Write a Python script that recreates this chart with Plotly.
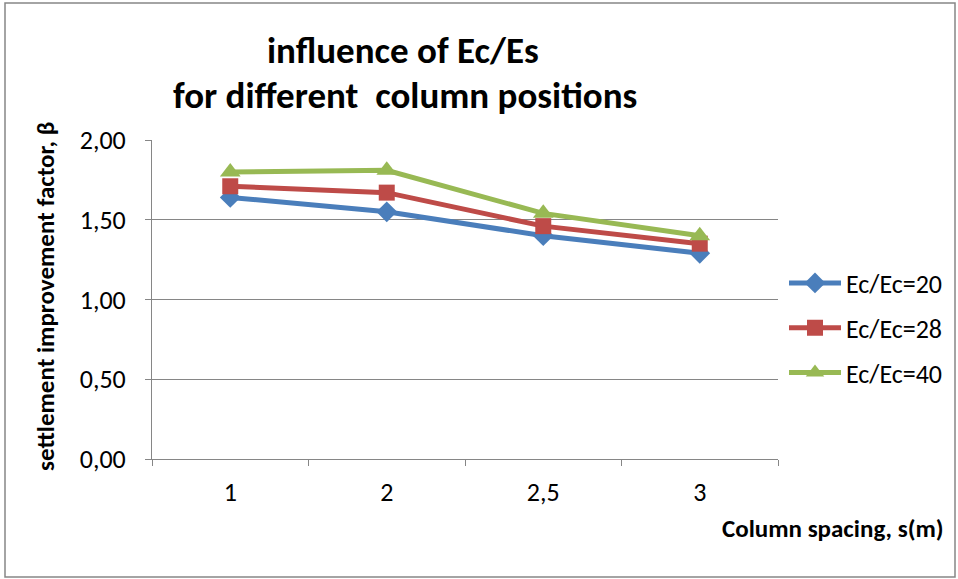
import plotly.graph_objects as go

categories = ["1", "2", "2,5", "3"]
series_names = ["Ec/Ec=20", "Ec/Ec=28", "Ec/Ec=40"]
s20 = [1.64, 1.55, 1.40, 1.29]
s28 = [1.71, 1.67, 1.46, 1.35]
s40 = [1.80, 1.81, 1.54, 1.40]
y_ticks = [0, 0.5, 1.0, 1.5, 2.0]
y_tick_labels = ["0,00", "0,50", "1,00", "1,50", "2,00"]

colors = ["#4A7EBB", "#BE4B48", "#98B954"]
symbols = ["diamond", "square", "triangle-up"]
sizes = [16, 16, 18]
font = "Carlito, Calibri, 'Liberation Sans Narrow', 'Open Sans', sans-serif"

L, R, T, B = 152, 778, 140, 459
W, H = 958, 579

fig = go.Figure()
for i, (name, vals, c, s, sz) in enumerate(zip(series_names, [s20, s28, s40], colors, symbols, sizes)):
    fig.add_trace(go.Scatter(
        x=categories, y=vals, name=name, mode="lines+markers",
        legendgroup=f"g{i}",
        line=dict(color=c, width=5),
        marker=dict(symbol=s, size=sz, color=c),
    ))

def px_x(px):
    return (px - L) / (R - L)
def px_y(py):
    return (B - py) / (B - T)

fig.update_layout(
    width=W, height=H,
    margin=dict(l=L, r=W - R, t=T, b=H - B, autoexpand=False),
    paper_bgcolor="white", plot_bgcolor="white",
    font=dict(family=font, size=26, color="#000000"),
    showlegend=True,
    legend=dict(x=px_x(784), y=px_y(328), xanchor="left", yanchor="middle",
                font=dict(size=26), tracegroupgap=8, itemwidth=52,
                bgcolor="rgba(0,0,0,0)"),
    xaxis=dict(type="category", showline=True, linecolor="#868686", linewidth=1,
               ticks="outside", tickson="boundaries", ticklen=6, tickcolor="#868686",
               showgrid=False, tickfont=dict(size=26), range=[-0.5, 3.5],
               ticklabelstandoff=10),
    yaxis=dict(range=[0, 2.0], tickvals=y_ticks, ticktext=y_tick_labels,
               showline=True, linecolor="#868686", linewidth=1,
               ticks="outside", ticklen=6, tickcolor="#868686",
               showgrid=True, gridcolor="#868686", gridwidth=1,
               zeroline=False, tickfont=dict(size=26), ticklabelstandoff=14),
    annotations=[
        dict(text="<b>influence of Ec/Es</b>", x=px_x(403), y=px_y(50),
             xref="paper", yref="paper", xanchor="center", yanchor="middle",
             showarrow=False, font=dict(size=37)),
        dict(text="<b>for different  column positions</b>", x=px_x(405), y=px_y(96),
             xref="paper", yref="paper", xanchor="center", yanchor="middle",
             showarrow=False, font=dict(size=37)),
        dict(text="<b>settlement improvement factor, β</b>", textangle=-90,
             x=px_x(45), y=px_y(297), xref="paper", yref="paper",
             xanchor="center", yanchor="middle", showarrow=False, font=dict(size=25)),
        dict(text="<b>Column spacing, s(m)</b>", x=px_x(946), y=px_y(528),
             xref="paper", yref="paper", xanchor="right", yanchor="middle",
             showarrow=False, font=dict(size=25)),
    ],
    shapes=[dict(type="rect", xref="paper", yref="paper",
                 x0=px_x(5), x1=px_x(955), y0=px_y(577), y1=px_y(3),
                 line=dict(color="#868686", width=1.5), layer="below")],
)

fig.write_html("out.html", config={"displayModeBar": False},
               post_script="document.body.style.margin='0';document.body.style.overflow='hidden';")
